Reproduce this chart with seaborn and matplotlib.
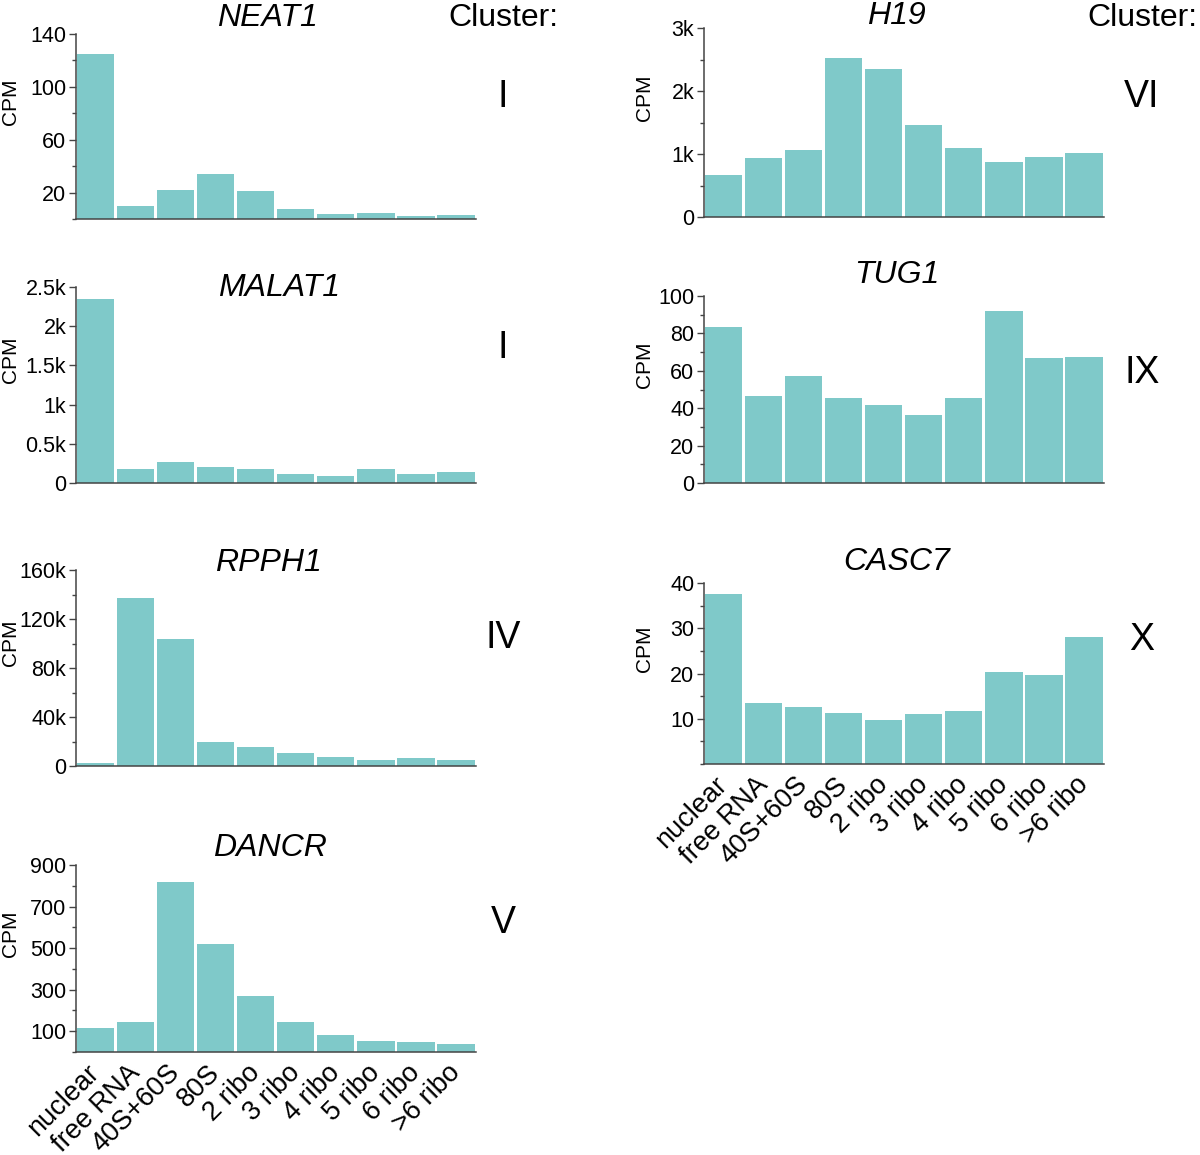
import matplotlib
matplotlib.use("Agg")
import matplotlib.pyplot as plt
import seaborn as sns
from matplotlib.ticker import FixedLocator, MultipleLocator

sns.set_style("ticks")
plt.rcParams['font.family'] = ['Liberation Sans', 'DejaVu Sans']
plt.rcParams['text.color'] = 'black'
plt.rcParams['axes.labelcolor'] = 'black'
plt.rcParams['xtick.color'] = 'black'
plt.rcParams['ytick.color'] = 'black'

fractions = ["nuclear", "free RNA", "40S+60S", "80S", "2 ribo", "3 ribo",
             "4 ribo", "5 ribo", "6 ribo", ">6 ribo"]

# CPM values
neat1 = [125, 10, 22, 34, 21, 7.5, 3.5, 4.5, 2, 3]
malat1 = [2350, 175, 268, 208, 175, 115, 95, 175, 120, 140]
rpph1 = [2200, 137000, 104000, 20000, 15300, 10900, 7000, 5000, 6800, 5000]
dancr = [115, 142, 817, 521, 269, 143, 80, 52, 47, 38]
h19 = [660, 930, 1064, 2529, 2354, 1454, 1100, 878, 957, 1020]
tug1 = [83.6, 46.6, 57.3, 45.7, 41.8, 36.5, 45.6, 92, 67, 67.5]
casc7 = [37.6, 13.5, 12.6, 11.3, 9.8, 11.1, 11.8, 20.3, 19.7, 28]

genes = ["NEAT1", "MALAT1", "RPPH1", "DANCR", "H19", "TUG1", "CASC7"]
clusters = ["I", "I", "IV", "V", "VI", "IX", "X"]

neat1_ticks = [20, 60, 100, 140]
malat1_ticks = [0, 500, 1000, 1500, 2000, 2500]
malat1_labels = ["0", "0.5k", "1k", "1.5k", "2k", "2.5k"]
rpph1_ticks = [0, 40000, 80000, 120000, 160000]
rpph1_labels = ["0", "40k", "80k", "120k", "160k"]
dancr_ticks = [100, 300, 500, 700, 900]
h19_ticks = [0, 1000, 2000, 3000]
h19_labels = ["0", "1k", "2k", "3k"]
tug1_ticks = [0, 20, 40, 60, 80, 100]
casc7_ticks = [10, 20, 30, 40]

W, H = 1200, 1155
bar_color = "#7fc9c9"
spine_color = "#444444"

# (left px, top px, bottom px) of each plot area
boxes = [(76, 34, 219), (76, 287, 483), (76, 570, 766), (76, 865, 1052),
         (704, 28, 217), (704, 296, 483), (704, 583, 764)]
title_pos = [(267, 18), (279, 288), (268, 563), (270, 848),
             (896, 16), (897, 275), (897, 562)]
cluster_pos = [(503, 97), (503, 348), (503, 638), (503, 923),
               (1142, 97), (1142, 373), (1142, 640)]

panels = [
    (neat1, neat1_ticks, None, 20),
    (malat1, malat1_ticks, malat1_labels, None),
    (rpph1, rpph1_ticks, rpph1_labels, 20000),
    (dancr, dancr_ticks, None, 100),
    (h19, h19_ticks, h19_labels, 500),
    (tug1, tug1_ticks, None, 10),
    (casc7, casc7_ticks, None, 5),
]

fig = plt.figure(figsize=(W / 100, H / 100), dpi=100)

for i, (vals, ticks, labels, minor) in enumerate(panels):
    left, top, bottom = boxes[i]
    ax = fig.add_axes([left / W, 1 - bottom / H, 400 / W, (bottom - top) / H])
    sns.barplot(x=fractions, y=vals, color=bar_color, width=0.93,
                saturation=1, edgecolor="none", ax=ax)
    ax.set_xlim(-0.49, 9.5)
    ax.set_ylim(0, ticks[-1])
    ax.yaxis.set_major_locator(FixedLocator(ticks))
    if labels is not None:
        ax.set_yticklabels(labels)
    if minor is not None:
        ax.yaxis.set_minor_locator(MultipleLocator(minor))
    sns.despine(ax=ax)
    for s in ["left", "bottom"]:
        ax.spines[s].set_color(spine_color)
        ax.spines[s].set_linewidth(1.1)
    ax.tick_params(axis="y", which="major", length=5, width=1, color=spine_color,
                   labelsize=15.5, pad=2)
    ax.tick_params(axis="y", which="minor", length=3, width=1, color=spine_color)
    ax.tick_params(axis="x", length=0)
    ax.set_ylabel("CPM", fontsize=15)
    lx = (20 - left) / 400 if left < 600 else (654 - left) / 400
    ax.yaxis.set_label_coords(lx, 0.5 + 25 / (bottom - top))
    if i in (3, 6):
        ax.set_xticks(range(len(fractions)))
        ax.set_xticklabels(fractions, rotation=45, ha="right", va="center",
                           rotation_mode="anchor", fontsize=19.5)
        ax.tick_params(axis="x", pad=12)
    else:
        ax.set_xticklabels([])
    ax.set_xlabel("")

    tx, ty = title_pos[i]
    fig.text(tx / W, 1 - ty / H, genes[i], fontsize=23, style="italic",
             ha="center", va="center")
    cx, cy = cluster_pos[i]
    fig.text(cx / W, 1 - cy / H, clusters[i], fontsize=27,
             ha="center", va="center")

fig.text(503 / W, 1 - 18 / H, "Cluster:", fontsize=23, ha="center", va="center")
fig.text(1142 / W, 1 - 18 / H, "Cluster:", fontsize=23, ha="center", va="center")

fig.savefig("out.png", dpi=100)
